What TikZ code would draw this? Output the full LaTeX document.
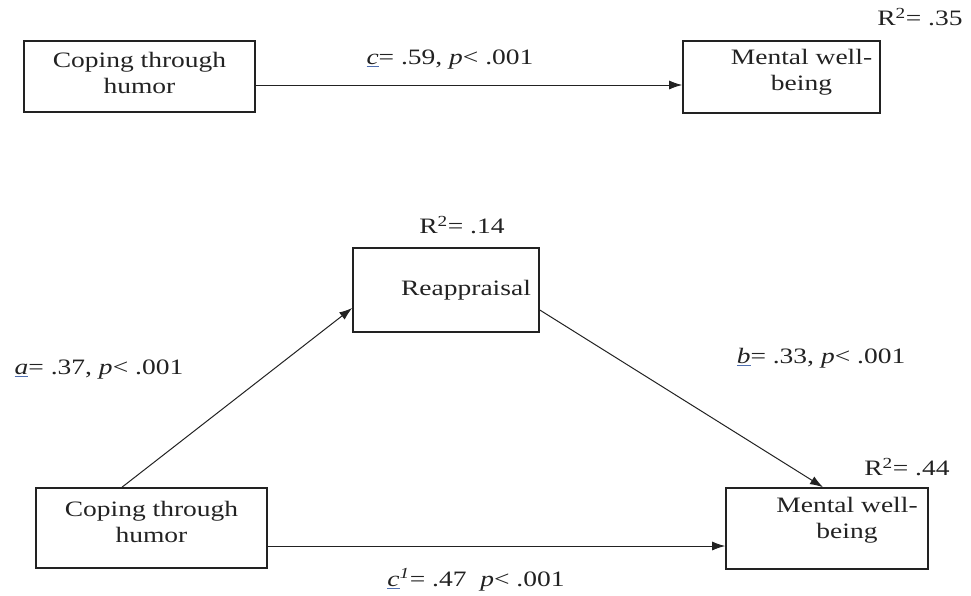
\documentclass[tikz,border=0pt]{standalone}
\usepackage{fontspec}
\setmainfont[FakeStretch=1.25]{Liberation Serif}
\usepackage{tikz}
\usetikzlibrary{arrows.meta,positioning}
\definecolor{ink}{HTML}{222222}
\definecolor{ulblue}{HTML}{4F6FB0}
\newcommand{\coef}[1]{\textcolor{ulblue}{\underline{\textcolor{ink}{\textit{#1}}}}}

\begin{document}
\begin{tikzpicture}[x=1pt,y=-1pt,
  box/.style={draw=ink,line width=1.6pt,minimum width=#1,minimum height=78,inner sep=0pt},
  txt/.style={align=center,font=\fontsize{22}{26}\selectfont,text=ink},
  lbl/.style={font=\fontsize{22}{26}\selectfont,text=ink,inner sep=0pt},
  arr/.style={draw=ink,line width=1pt,-{Latex[length=13pt,width=9pt]}}]
\useasboundingbox (0,0) rectangle (971,595);
\node[box=231,minimum height=71] (cth1) at (139.5,76.5) {};
\node[txt] (cth1t) at ([yshift=4]cth1.center) {Coping through\\humor};
\node[box=197,minimum height=72] (mwb1) at (781.5,77) {};
\node[txt] (mwb1t) at ([xshift=20,yshift=5]mwb1.center) {Mental well-\\being};
\node[box=186,minimum height=84] (reap) at (446,290) {};
\node[txt] (reapt) at ([xshift=20]reap.center) {Reappraisal};
\node[box=231,minimum height=80] (cth2) at (151.5,528) {};
\node[txt] (cth2t) at ([yshift=6]cth2.center) {Coping through\\humor};
\node[box=202,minimum height=81] (mwb2) at (827,528.5) {};
\node[txt] (mwb2t) at ([xshift=20,yshift=8]mwb2.center) {Mental well-\\being};

\draw[arr] ([yshift=-8.5]cth1.east) -- ([yshift=-8]mwb1.west);
\draw[arr] ([xshift=-29.5]cth2.north) -- ([yshift=-18]reap.west);
\draw[arr] ([yshift=-20]reap.east) -- ([xshift=-4]mwb2.north);
\draw[arr] ([yshift=-18]cth2.east) -- ([yshift=-17.5]mwb2.west);

\node[lbl] (lc) at (450,60) {\coef{c}= .59, \textit{p}< .001};
\node[lbl] (r1) at (920,17) {R\textsuperscript{2}= .35};
\node[lbl] (r2) at (462,225) {R\textsuperscript{2}= .14};
\node[lbl] (la) at (99,370) {\coef{a}= .37, \textit{p}< .001};
\node[lbl] (lb) at (821,358) {\coef{b}= .33, \textit{p}< .001};
\node[lbl] (r3) at (907,467) {R\textsuperscript{2}= .44};
\node[lbl] (lc1) at (476,580) {\coef{c}\textsuperscript{\textit{1}}= .47\ \ \textit{p}< .001};
\end{tikzpicture}
\end{document}
